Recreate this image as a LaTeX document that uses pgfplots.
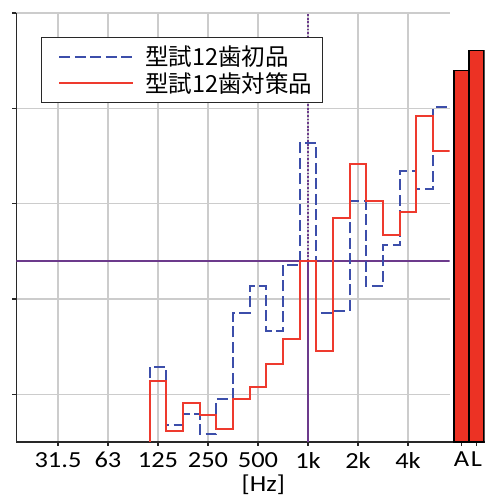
\documentclass[border=0pt]{standalone}
\usepackage{pgfplots}
\pgfplotsset{compat=1.18}
\usepackage{fontspec}
\setmainfont{Carlito}
\newfontfamily\tickfont[FakeStretch=1.15]{Carlito}
\newfontfamily\cjk{Noto Sans CJK JP}
\definecolor{redl}{RGB}{238,58,46}
\definecolor{bluel}{RGB}{60,78,170}
\definecolor{barred}{RGB}{236,50,36}
\definecolor{gridc}{RGB}{204,204,204}
\definecolor{axc}{RGB}{40,40,40}
\definecolor{purp}{RGB}{108,58,140}
\begin{document}
\begin{tikzpicture}[x=1pt,y=1pt]
\path[use as bounding box] (0,0) rectangle (492,496);
\begin{axis}[
  at={(16.3pt,54pt)}, anchor=south west,
  scale only axis, width=433.4pt, height=429pt,
  xmin=-0.5, xmax=25.5, ymin=5, ymax=50,
  axis x line=bottom, axis y line=left,
  axis line style={-, draw=axc, line width=1.4pt},
  xtick={2,5,8,11,14,17,20,23},
  xticklabels={31.5,63,125,250,500,1k,2k,4k},
  ytick={10,20,30,40,50}, yticklabels={},
  tick align=outside, major tick length=4pt,
  tick style={axc, line width=1.2pt},
  grid=major, grid style={draw=gridc, line width=1.2pt},
  xticklabel style={font=\tickfont\fontsize{23}{23}\selectfont, inner sep=0pt, anchor=north, yshift=-6pt},
  legend style={at={(0.057,0.944)}, anchor=north west, draw=axc, line width=1pt,
    inner xsep=10pt, inner ysep=8.5pt, font=\cjk\fontsize{23.5}{25}\selectfont,
    nodes={inner sep=0pt}, row sep=5pt, cells={anchor=west}},
  legend image code/.code={\path (0pt,0pt) (92pt,0pt); \draw[#1] (7pt,0pt) -- (81pt,0pt);},
]
\addplot[purp, line width=1.3pt, forget plot] coordinates {(-0.5,24.0) (25.5,24.0)};
\addplot[purp, line width=1.3pt, forget plot] coordinates {(17,5) (17,24.0)};
\addplot[purp, line width=1.4pt, dash pattern=on 1.8pt off 1.8pt, forget plot] coordinates {(17,24.0) (17,50)};
\addplot[bluel, line width=1.9pt, dash pattern=on 11pt off 4.5pt, const plot mark right] coordinates {
(7.5,11.7) (8.5,12.87) (9.5,6.80) (10.5,7.90) (11.5,5.85) (12.5,9.55) (13.5,18.56)
(14.5,21.34) (15.5,16.61) (16.5,23.6) (17.5,36.35) (18.5,18.5) (19.5,18.71)
(20.5,30.26) (21.5,21.34) (22.5,25.64) (23.5,33.41) (24.5,31.52) (25.5,40.1)};
\addlegendentry{型試12歯初品}
\addplot[redl, line width=1.8pt, const plot mark right] coordinates {
(7.5,0) (8.5,11.36) (9.5,6.12) (10.5,9.06) (11.5,7.87) (12.5,6.33) (13.5,9.55)
(14.5,10.73) (15.5,13.15) (16.5,15.77) (17.5,24.0) (18.5,14.51) (19.5,28.48)
(20.5,34.15) (21.5,30.26) (22.5,26.69) (23.5,29.11) (24.5,39.19) (25.5,35.51)};
\addlegendentry{型試12歯対策品}
\end{axis}
\begin{axis}[
  at={(449.7pt,54pt)}, anchor=south west,
  scale only axis, width=34.8pt, height=429pt,
  xmin=449.7, xmax=484.5, ymin=5, ymax=50,
  axis y line=none, axis x line*=bottom,
  x axis line style={-, draw=axc, line width=1.4pt},
  xtick={461.5,476.5}, xticklabels={A,L},
  tick align=outside, major tick length=4pt,
  tick style={axc, line width=1.2pt},
  xticklabel style={font=\tickfont\fontsize{23}{23}\selectfont, inner sep=0pt, anchor=north, yshift=-6pt},
  ybar, bar width=15pt,
]
\addplot[fill=barred, draw=black, line width=1.2pt, bar shift=0pt] coordinates {(461.5,43.94) (476.5,46.1)};
\end{axis}
\node[font=\tickfont\fontsize{23}{23}\selectfont, inner sep=0pt, anchor=base] at (263.3,5) {[Hz]};
\end{tikzpicture}
\end{document}
